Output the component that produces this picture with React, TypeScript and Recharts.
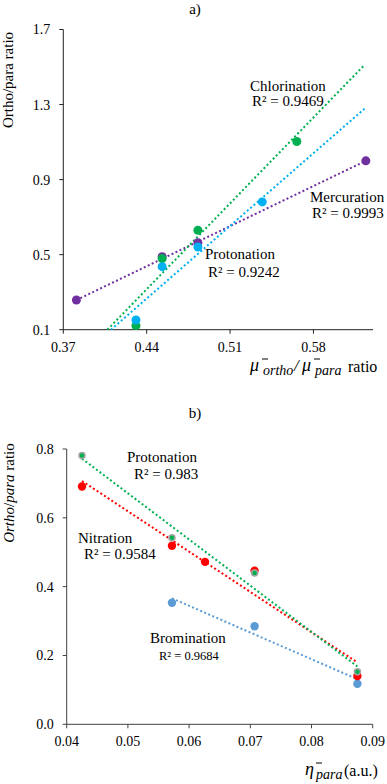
import { ScatterChart, Scatter, XAxis, YAxis } from "recharts";

const SERIF = '"Liberation Serif", "Times New Roman", serif';

// ---- a) panel ----
const A_X_TICKS = [0.37, 0.44, 0.51, 0.58];
const A_Y_TICKS = [0.1, 0.5, 0.9, 1.3, 1.7];

const MERC_X = [0.381, 0.453, 0.483, 0.624];
const MERC_Y = [0.258, 0.489, 0.564, 1.0];
const CHLOR_X = [0.431, 0.453, 0.483, 0.566];
const CHLOR_Y = [0.121, 0.479, 0.63, 1.103];
const PROT_A_X = [0.431, 0.453, 0.483, 0.537];
const PROT_A_Y = [0.152, 0.436, 0.541, 0.781];

// trendline ends
const MERC_TREND_X = [0.381, 0.624];
const MERC_TREND_Y = [0.258, 1.0];
const CHLOR_TREND_X = [0.407, 0.623];
const CHLOR_TREND_Y = [0.1, 1.512];
const PROT_A_TREND_X = [0.41, 0.624];
const PROT_A_TREND_Y = [0.1, 1.284];

// ---- b) panel ----
const B_X_TICKS = [0.04, 0.05, 0.06, 0.07, 0.08, 0.09];
const B_Y_TICKS = [0.0, 0.2, 0.4, 0.6, 0.8];

const PROT_B_X = [0.0425, 0.0572, 0.0707, 0.0875];
const PROT_B_Y = [0.781, 0.542, 0.44, 0.153];
const NITR_X = [0.0425, 0.0572, 0.0626, 0.0707, 0.0875];
const NITR_Y = [0.691, 0.519, 0.472, 0.446, 0.14];
const BROM_X = [0.0572, 0.0707, 0.0875];
const BROM_Y = [0.353, 0.285, 0.118];

const PROT_B_TREND_X = [0.0425, 0.0875];
const PROT_B_TREND_Y = [0.772, 0.168];
const NITR_TREND_X = [0.0425, 0.0873];
const NITR_TREND_Y = [0.707, 0.182];
const BROM_TREND_X = [0.0572, 0.0875];
const BROM_TREND_Y = [0.366, 0.131];

const pts = (xs: number[], ys: number[]) => xs.map((x, i) => ({ x, y: ys[i] }));

const dot = (fill: string, r: number, stroke?: string) => (p: any) => (
  <circle cx={p.cx} cy={p.cy} r={r} fill={fill} stroke={stroke || "none"} strokeWidth={stroke ? 1.5 : 0} />
);
const noDot = () => <g />;

const trendLine = (color: string) => ({
  stroke: color,
  strokeWidth: 2,
  strokeDasharray: "2 2.4",
});

const tickStyle = { fontSize: 14, fill: "#000", fontFamily: SERIF };

export default function App() {
  return (
    <div style={{ position: "absolute", top: 0, left: 0, width: 387, height: 784, background: "#fff" }}>
      {/* a) */}
      <div style={{ position: "absolute", top: 0, left: 0 }}>
        <ScatterChart width={387} height={380} margin={{ top: 29.5, right: 14, bottom: 20.3, left: 23.3 }}>
          <XAxis
            type="number"
            dataKey="x"
            domain={[0.37, 0.63]}
            ticks={A_X_TICKS}
            tickFormatter={(v: number) => v.toFixed(2)}
            tick={tickStyle}
            tickSize={4}
            tickMargin={8}
            height={30}
            stroke="#222"
            allowDataOverflow
          />
          <YAxis
            type="number"
            dataKey="y"
            domain={[0.1, 1.7]}
            ticks={A_Y_TICKS}
            tickFormatter={(v: number) => v.toFixed(1)}
            tick={tickStyle}
            tickSize={4}
            tickMargin={9}
            width={40}
            stroke="#222"
            allowDataOverflow
          />
          <Scatter data={pts(MERC_TREND_X, MERC_TREND_Y)} fill="#7030A0" line={trendLine("#7030A0")} shape={noDot} isAnimationActive={false} />
          <Scatter data={pts(CHLOR_TREND_X, CHLOR_TREND_Y)} fill="#00B050" line={trendLine("#00B050")} shape={noDot} isAnimationActive={false} />
          <Scatter data={pts(PROT_A_TREND_X, PROT_A_TREND_Y)} fill="#00B0F0" line={trendLine("#00B0F0")} shape={noDot} isAnimationActive={false} />
          <Scatter data={pts(MERC_X, MERC_Y)} fill="#7030A0" shape={dot("#7030A0", 4.5)} isAnimationActive={false} />
          <Scatter data={pts(CHLOR_X, CHLOR_Y)} fill="#00B050" shape={dot("#00B050", 4.5)} isAnimationActive={false} />
          <Scatter data={pts(PROT_A_X, PROT_A_Y)} fill="#00B0F0" shape={dot("#00B0F0", 4.5)} isAnimationActive={false} />
        </ScatterChart>
      </div>

      {/* b) */}
      <div style={{ position: "absolute", top: 380, left: 0 }}>
        <ScatterChart width={387} height={404} margin={{ top: 69, right: 14.3, bottom: 29.7, left: 26.7 }}>
          <XAxis
            type="number"
            dataKey="x"
            domain={[0.04, 0.09]}
            ticks={B_X_TICKS}
            tickFormatter={(v: number) => v.toFixed(2)}
            tick={tickStyle}
            tickSize={4}
            tickMargin={8}
            height={30}
            stroke="#404040"
            allowDataOverflow
          />
          <YAxis
            type="number"
            dataKey="y"
            domain={[0, 0.8]}
            ticks={B_Y_TICKS}
            tickFormatter={(v: number) => v.toFixed(1)}
            tick={tickStyle}
            tickSize={4}
            tickMargin={9}
            width={40}
            stroke="#404040"
            allowDataOverflow
          />
          <Scatter data={pts(BROM_TREND_X, BROM_TREND_Y)} fill="#5B9BD5" line={trendLine("#5B9BD5")} shape={noDot} isAnimationActive={false} />
          <Scatter data={pts(NITR_TREND_X, NITR_TREND_Y)} fill="#FF0000" line={trendLine("#FF0000")} shape={noDot} isAnimationActive={false} />
          <Scatter data={pts(PROT_B_TREND_X, PROT_B_TREND_Y)} fill="#00B050" line={trendLine("#00B050")} shape={noDot} isAnimationActive={false} />
          <Scatter data={pts(BROM_X, BROM_Y)} fill="#5B9BD5" shape={dot("#5B9BD5", 4.2)} isAnimationActive={false} />
          <Scatter data={pts(NITR_X, NITR_Y)} fill="#FF0000" shape={dot("#FF0000", 4.2)} isAnimationActive={false} />
          <Scatter data={pts(PROT_B_X, PROT_B_Y)} fill="#00B050" shape={dot("#00B050", 3, "#A5A5A5")} isAnimationActive={false} />
        </ScatterChart>
      </div>

      {/* text overlay */}
      <svg width={387} height={784} style={{ position: "absolute", top: 0, left: 0, pointerEvents: "none", fontFamily: SERIF }} fill="#000">
        {/* a) */}
        <text x={195} y={14} fontSize={15} textAnchor="middle">a)</text>
        <text x={13} y={80} fontSize={15} textAnchor="middle" transform="rotate(-90 13 80)">Ortho/para ratio</text>
        <text x={250} y={91} fontSize={15}>Chlorination</text>
        <text x={252} y={106} fontSize={15}>R² = 0.9469</text>
        <text x={310} y={202} fontSize={15}>Mercuration</text>
        <text x={312} y={218} fontSize={15}>R² = 0.9993</text>
        <text x={205} y={259} fontSize={15}>Protonation</text>
        <text x={208} y={277} fontSize={15}>R² = 0.9242</text>
        {/* x label: mu-bar ortho / mu-bar para ratio */}
        <text x={250} y={371} fontSize={18} fontStyle="italic">μ</text>
        <line x1={262} x2={268} y1={359} y2={359} stroke="#000" strokeWidth={1} />
        <text x={263} y={375} fontSize={14} fontStyle="italic">ortho</text>
        <text x={294} y={371} fontSize={17} fontStyle="italic">/</text>
        <text x={302} y={371} fontSize={18} fontStyle="italic">μ</text>
        <line x1={314} x2={320} y1={359} y2={359} stroke="#000" strokeWidth={1} />
        <text x={315} y={375} fontSize={14} fontStyle="italic">para</text>
        <text x={348} y={372} fontSize={16}>ratio</text>

        {/* b) */}
        <text x={195} y={418} fontSize={15} textAnchor="middle">b)</text>
        <text x={14} y={493} fontSize={15} textAnchor="middle" transform="rotate(-90 14 493)">
          <tspan fontStyle="italic">Ortho</tspan>/<tspan fontStyle="italic">para</tspan> ratio
        </text>
        <text x={127} y={462} fontSize={15}>Protonation</text>
        <text x={134} y={479} fontSize={15}>R² = 0.983</text>
        <text x={78} y={543} fontSize={15}>Nitration</text>
        <text x={84} y={559} fontSize={15}>R² = 0.9584</text>
        <text x={150} y={643} fontSize={15}>Bromination</text>
        <text x={159} y={660} fontSize={12.5}>R² = 0.9684</text>
        {/* x label: eta-bar para (a.u.) */}
        <text x={305} y={775} fontSize={18} fontStyle="italic">η</text>
        <line x1={316} x2={322} y1={763} y2={763} stroke="#000" strokeWidth={1} />
        <text x={316} y={779} fontSize={14} fontStyle="italic">para</text>
        <text x={344} y={776} fontSize={16}>(a.u.)</text>
      </svg>
    </div>
  );
}
